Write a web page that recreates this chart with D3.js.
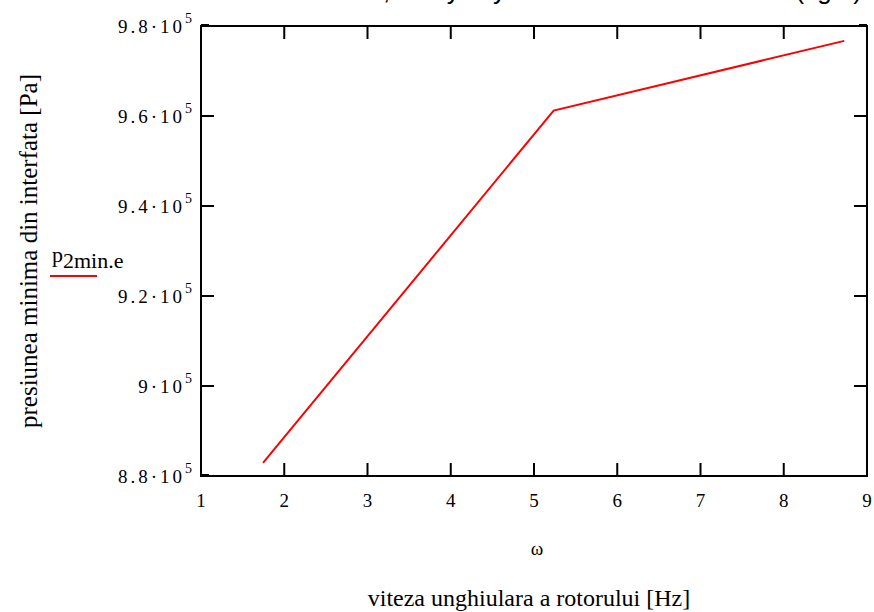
<!DOCTYPE html>
<html>
<head>
<meta charset="utf-8">
<script src="https://cdn.jsdelivr.net/npm/d3@7"></script>
<style>
  body { margin: 0; background: #fff; }
  text { font-family: "Liberation Serif", "Times New Roman", serif; }
</style>
</head>
<body>
<div id="chart"></div>
<script>
// data
const omega = [1.745, 5.236, 8.727];
const p2min = [882900, 961200, 976700];
const xTicks = [1, 2, 3, 4, 5, 6, 7, 8, 9];
const yTicks = [880000, 900000, 920000, 940000, 960000, 980000];
const yTickMantissa = ["8.8", "9", "9.2", "9.4", "9.6", "9.8"];

const width = 874, height = 612;
const margin = { top: 26, right: 7, bottom: 136, left: 201 };

const svg = d3.select("#chart").append("svg")
  .attr("width", width)
  .attr("height", height);

const x = d3.scaleLinear().domain([1, 9]).range([margin.left, width - margin.right]);
const y = d3.scaleLinear().domain([880000, 980000]).range([height - margin.bottom, margin.top]);

// title, mostly cut off at the top edge like the original
svg.append("text")
  .attr("x", 175).attr("y", -1)
  .style("font-family", "'Liberation Sans', Arial, sans-serif")
  .style("font-size", "26px")
  .text("Presiunea minima, analytic y in functie de viteza");
svg.append("text")
  .attr("x", 862).attr("y", -1)
  .attr("text-anchor", "end")
  .style("font-family", "'Liberation Sans', Arial, sans-serif")
  .style("font-size", "26px")
  .text("(fig.4)");

// frame
const x0 = x(1), x1 = x(9), y0 = y(880000), y1 = y(980000);
svg.append("rect")
  .attr("x", x0).attr("y", y1)
  .attr("width", x1 - x0).attr("height", y0 - y1)
  .attr("fill", "none").attr("stroke", "#000").attr("stroke-width", 2);

const tickLen = 13;
const ticks = svg.append("g").attr("stroke", "#000").attr("stroke-width", 2);
xTicks.slice(1, -1).forEach(t => {
  ticks.append("line").attr("x1", x(t)).attr("x2", x(t)).attr("y1", y0).attr("y2", y0 - tickLen);
  ticks.append("line").attr("x1", x(t)).attr("x2", x(t)).attr("y1", y1).attr("y2", y1 + tickLen);
});
yTicks.slice(1, -1).forEach(t => {
  ticks.append("line").attr("x1", x0).attr("x2", x0 + tickLen).attr("y1", y(t)).attr("y2", y(t));
  ticks.append("line").attr("x1", x1).attr("x2", x1 - tickLen).attr("y1", y(t)).attr("y2", y(t));
});
// small thick bits at the corners
[[x0, y1], [x1 - 8, y1], [x0, y0]].forEach(([cx, cy]) => {
  ticks.append("line").attr("x1", cx).attr("x2", cx + 8).attr("y1", cy - 1).attr("y2", cy - 1);
});

// x tick labels
svg.append("g").selectAll("text")
  .data(xTicks)
  .join("text")
  .attr("x", d => x(d))
  .attr("y", y0 + 31)
  .attr("text-anchor", "middle")
  .style("font-size", "19px")
  .text(d => d);

// y tick labels with exponent
const yl = svg.append("g").selectAll("text")
  .data(yTicks)
  .join("text")
  .attr("x", x0 - 9)
  .attr("y", d => y(d) + 7)
  .attr("text-anchor", "end")
  .style("font-size", "19px");
yl.append("tspan").style("letter-spacing", "3px").text((d, i) => yTickMantissa[i] + "\u00b710");
yl.append("tspan").attr("dy", -10).style("font-size", "14px").text("5");

// data line
const line = d3.line().x((d, i) => x(omega[i])).y(d => y(d));
svg.append("path")
  .datum(p2min)
  .attr("d", line)
  .attr("fill", "none")
  .attr("stroke", "#ff0000")
  .attr("stroke-width", 2);

// legend
const lg = svg.append("text").attr("x", 52).attr("y", 262).style("font-size", "22px");
lg.append("tspan").text("p");
lg.append("tspan").attr("dy", 6).text("2min.e");
svg.append("line")
  .attr("x1", 50).attr("x2", 97).attr("y1", 276).attr("y2", 276)
  .attr("stroke", "#ff0000").attr("stroke-width", 2);

// axis titles
svg.append("text")
  .attr("transform", `translate(37,${(y0 + y1) / 2}) rotate(-90)`)
  .attr("text-anchor", "middle")
  .style("font-size", "25px")
  .text("presiunea minima din interfata [Pa]");

svg.append("text")
  .attr("x", 537).attr("y", 555)
  .attr("text-anchor", "middle")
  .style("font-size", "19px")
  .text("\u03c9");

svg.append("text")
  .attr("x", 529).attr("y", 606)
  .attr("text-anchor", "middle")
  .style("font-size", "24px")
  .text("viteza unghiulara a rotorului [Hz]");
</script>
</body>
</html>
